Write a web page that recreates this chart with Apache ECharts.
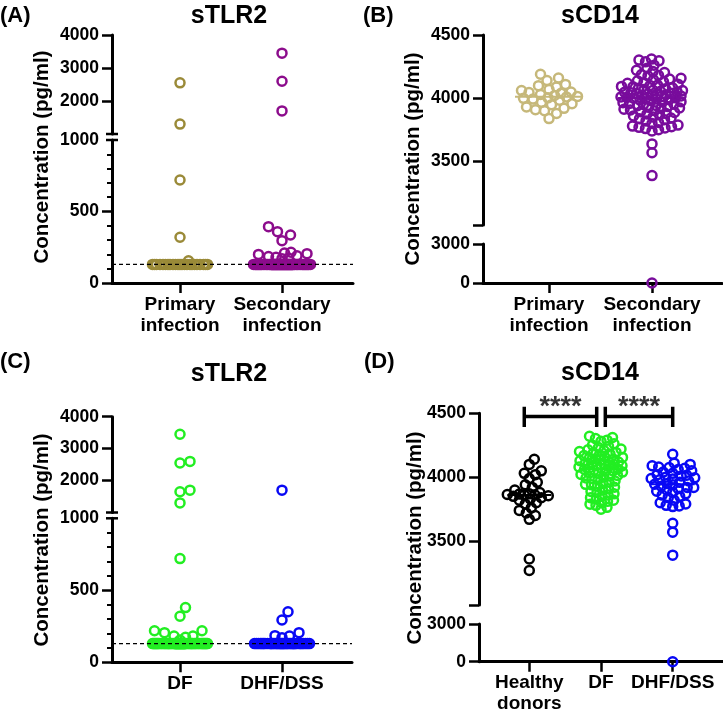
<!DOCTYPE html>
<html><head><meta charset="utf-8">
<script src="https://cdn.jsdelivr.net/npm/echarts@6/dist/echarts.min.js"></script>
<style>html,body{margin:0;padding:0;background:#fff}#c{width:723px;height:719px}</style>
</head><body><div id="c"></div>
<script>
// ---------------- data ----------------
const catsInfection = ['Primary\ninfection', 'Secondary\ninfection'];
const catsSeverity = ['DF', 'DHF/DSS'];
const catsSeverityHD = ['Healthy\ndonors', 'DF', 'DHF/DSS'];

const tlr2UpperTicks = [2000, 3000, 4000];
const tlr2LowerTicks = [0, 500, 1000];
const cd14UpperTicks = [3500, 4000, 4500];
const cd14LowerTicks = [0, 3000];

const tlr2LOD = 130;

// (A) sTLR2 by infection type
const tlr2Primary = [2550, 1300, 720, 320, 155,
  130,130,130,130,130,130,130,130,130,130,130,130,130,130,130,130,130,130,130,130,130,130,130];
const tlr2Secondary = [3450, 2600, 1700, 394, 359, 336, 296, 215, 210, 205, 200, 190, 185, 180, 175, 170,
  130,130,130,130,130,130,130,130,130,130,130,130,130,130,130,130,130,130,130,130,130,130,130,130,130,
  130,130,130,130,130,130,130,130,130,130,130,130,130,130,130,130,130,130,130,130,130,130,130,130,130,
  130,130,130,130,130,130,130,130,130,130,130,130,130,130,130,130,130,130,130,130,130,130,130,130,130];

// (B) sCD14 by infection type
const cd14Primary = [4190, 4160, 4140, 4110, 4100, 4090, 4070, 4062, 4050, 4046, 4040, 4030, 4022, 4015,
  4010, 4004, 4000, 3994, 3985, 3970, 3958, 3950, 3932, 3921, 3910, 3902, 3880, 3840];
const cd14Secondary = [4310, 4302, 4296, 4288, 4262, 4238, 4222, 4211, 4203, 4188, 4181, 4176, 4158, 4152,
  4146, 4139, 4131, 4124, 4119, 4112, 4104, 4101, 4094, 4091, 4084, 4079, 4076, 4069, 4064, 4061, 4056,
  4052, 4048, 4044, 4041, 4038, 4034, 4031, 4028, 4024, 4021, 4018, 4014, 4011, 4008, 4004, 4001, 3998,
  3994, 3989, 3986, 3981, 3974, 3971, 3966, 3959, 3954, 3951, 3944, 3941, 3936, 3929, 3924, 3921, 3914,
  3908, 3902, 3894, 3889, 3881, 3876, 3869, 3861, 3852, 3844, 3839, 3831, 3822, 3809, 3801, 3789, 3781,
  3776, 3771, 3766, 3761, 3752, 3742, 3640, 3570, 3390, 0];

// (C) sTLR2 by severity
const tlr2DF = [3450, 2600, 2550, 1700, 1650, 1300, 720, 380, 320, 219, 219, 206, 183, 183, 174, 155,
  130,130,130,130,130,130,130,130,130,130,130,130,130,130,130,130,130,130,130,130,
  130,130,130,130,130,130,130,130,130,130,130,130,130,130,130,130,130,130,130,130,
  130,130,130,130,130,130,130,130,130,130,130,130,130,130,130,130,130,130,130];
const tlr2DHF = [1700, 351, 294, 206, 185, 183, 171,
  130,130,130,130,130,130,130,130,130,130,130,130,130,130,130,130,130,130,130,
  130,130,130,130,130,130,130,130,130,130,130,130,130,130,130,130,130,130,130];

// (D) sCD14 by severity incl. healthy donors
const cd14Healthy = [4140, 4100, 4050, 4030, 4020, 3990, 3960, 3940, 3920, 3900, 3880, 3870, 3868, 3865,
  3862, 3860, 3855, 3850, 3840, 3830, 3820, 3800, 3790, 3760, 3740, 3720, 3700, 3670, 3360, 3270];
const cd14DF = [4320, 4311, 4302, 4290, 4281, 4262, 4250, 4241, 4232, 4220, 4214, 4209, 4201, 4194, 4190,
  4181, 4176, 4169, 4161, 4155, 4150, 4144, 4141, 4134, 4129, 4126, 4119, 4114, 4110, 4104, 4100, 4096,
  4089, 4086, 4080, 4074, 4071, 4064, 4060, 4054, 4050, 4046, 4040, 4034, 4030, 4021, 4014, 4010, 4001,
  3994, 3990, 3981, 3970, 3961, 3950, 3944, 3940, 3929, 3921, 3910, 3900, 3889, 3881, 3870, 3861, 3850,
  3840, 3829, 3820, 3811, 3800, 3789, 3780, 3764, 3750];
const cd14DHF = [4180, 4110, 4100, 4090, 4080, 4075, 4070, 4060, 4050, 4040, 4030, 4020, 4015, 4010, 4000,
  3995, 3990, 3985, 3980, 3970, 3960, 3950, 3945, 3940, 3930, 3920, 3920, 3910, 3900, 3890, 3880, 3870,
  3860, 3850, 3840, 3820, 3800, 3790, 3780, 3775, 3770, 3640, 3570, 3390, 0];

// significance brackets (panel D), in axis units
const sigBrackets = [{from: 0.93, to: 1.94, text: '****'}, {from: 2.06, to: 3.0, text: '****'}];
const sigLevel = 4475, sigCapTop = 4552, sigCapBottom = 4393, sigTextLevel = 4545;

// ---------------- layout / style ----------------
const FONT = '"Liberation Sans", Arial, Helvetica, sans-serif';
const colors = {olive:'#9A8A38', purpleA:'#8C0C8C', khaki:'#C6B87A', violetB:'#780C9C',
                green:'#22EE22', blue:'#0808F4', black:'#000000'};

const layout = {
  A:{axisX:112, right:353, groups:[180,282], up:{top:35,bottom:134}, lo:{top:140,bottom:283},
     brk:true, cats:catsInfection, title:'sTLR2', tpos:[229,16], label:'(A)', lpos:[0,16], ypos:[42,157]},
  B:{axisX:483, right:722, groups:[549,652], up:{top:35,bottom:225}, lo:{top:244,bottom:283},
     brk:false, cats:catsInfection, title:'sCD14', tpos:[600,16], label:'(B)', lpos:[363,16], ypos:[413,159]},
  C:{axisX:112, right:352, groups:[180,282], up:{top:416.7,bottom:512.5}, lo:{top:518.3,bottom:662.3},
     brk:true, cats:catsSeverity, title:'sTLR2', tpos:[229,374], label:'(C)', lpos:[0,362], ypos:[42,540]},
  D:{axisX:479, right:723, groups:[529.3,600.7,672.7], up:{top:413.3,bottom:605}, lo:{top:624,bottom:661.7},
     brk:false, cats:catsSeverityHD, title:'sCD14', tpos:[600,373], label:'(D)', lpos:[364,362], ypos:[415,538]}
};
const tlr2Axes = {split:1000, up:{min:1000,max:4000,interval:1000,ticks:tlr2UpperTicks,labels:tlr2UpperTicks},
                  lo:{min:0,max:1000,interval:500,ticks:[0,500],labels:tlr2LowerTicks,minor:true}};
const cd14Axes = {split:3000, up:{min:3000,max:4500,interval:500,ticks:[3000].concat(cd14UpperTicks),labels:cd14UpperTicks},
                  lo:{min:0,max:3000,interval:3000,ticks:cd14LowerTicks,labels:cd14LowerTicks}};
const axesOf = {A:tlr2Axes, B:cd14Axes, C:tlr2Axes, D:cd14Axes};

const grids=[], xAxes=[], yAxes=[], series=[], graphics=[];
const keys=['A','B','C','D'];
keys.forEach((k,pi)=>{
  const P=layout[k], ax=axesOf[k];
  const n=P.groups.length;
  P.ppu=(P.groups[n-1]-P.groups[0])/(n-1);
  P.xmin=1-(P.groups[0]-P.axisX)/P.ppu;
  P.xmax=P.xmin+(P.right-P.axisX)/P.ppu;
  P.gUp=pi*2; P.gLo=pi*2+1;
  ['up','lo'].forEach(seg=>{
    const g=P[seg], a=ax[seg], gi=seg==='up'?P.gUp:P.gLo;
    grids.push({left:P.axisX, top:g.top, width:P.right-P.axisX, height:g.bottom-g.top, containLabel:false});
    const catVals=P.cats.map((c,i)=>i+1);
    xAxes.push({type:'value', gridIndex:gi, min:P.xmin, max:P.xmax, show:seg==='lo',
      axisLine:{show:true,onZero:false,lineStyle:{color:'#000',width:3}},
      axisTick:{show:true,length:10,lineStyle:{color:'#000',width:2.5},customValues:catVals},
      axisLabel:{show:true,customValues:catVals,formatter:v=>P.cats[Math.round(v)-1]||'',
        color:'#000',fontFamily:FONT,fontWeight:'bold',fontSize:19,lineHeight:21,margin:11},
      splitLine:{show:false}});
    yAxes.push({type:'value', gridIndex:gi, min:a.min, max:a.max, interval:a.interval,
      axisLine:{show:true,onZero:false,lineStyle:{color:'#000',width:3}},
      axisTick:{show:true,length:10,lineStyle:{color:'#000',width:2.5},customValues:a.ticks},
      minorTick:a.minor?{show:true,splitNumber:5,length:5,lineStyle:{color:'#000',width:2}}:{show:false},
      axisLabel:{show:true,customValues:a.labels,formatter:v=>String(v),color:'#000',fontFamily:FONT,fontWeight:'bold',fontSize:17.5,margin:13},
      splitLine:{show:false}});
  });
  // texts
  graphics.push({type:'text',x:P.tpos[0],y:P.tpos[1],style:{text:P.title,font:'bold 25px '+FONT,fill:'#000',align:'center',verticalAlign:'middle'}});
  graphics.push({type:'text',x:P.lpos[0],y:P.lpos[1],style:{text:P.label,font:'bold 22px '+FONT,fill:'#000',align:'left',verticalAlign:'middle'}});
  graphics.push({type:'text',x:P.ypos[0],y:P.ypos[1],rotation:Math.PI/2,style:{text:'Concentration (pg/ml)',font:'bold 20.5px '+FONT,fill:'#000',align:'center',verticalAlign:'middle'}});
  if(P.brk){
    [P.up.bottom,P.lo.top].forEach(yy=>graphics.push({type:'line',shape:{x1:P.axisX-6,y1:yy,x2:P.axisX+6,y2:yy},style:{stroke:'#000',lineWidth:2.5}}));
  }
});

function yPx(P,ax,v){const seg=v>=ax.split?'up':'lo';const a=ax[seg],g=P[seg];return g.bottom-(v-a.min)/(a.max-a.min)*(g.bottom-g.top);}

function swarm(values,toPx,maxHalf,dist){
  const idx=values.map((v,i)=>i).sort((a,b)=>values[a]-values[b]);
  const placed=[],out=new Array(values.length);
  const cands=[0];for(let s=0.5;s<=maxHalf;s+=0.5){cands.push(s,-s);}
  for(const i of idx){
    const py=toPx(values[i]);
    const md=cands.map(cx=>{let m=Infinity;for(const p of placed){const d=Math.hypot(p.x-cx,p.y-py);if(d<m)m=d;}return m;});
    let d=dist,chosen=null;
    while(chosen===null){
      for(let k=0;k<cands.length;k++){if(md[k]>=d){chosen=cands[k];break;}}
      if(chosen===null){d*=0.85;if(d<0.4){let b=0;for(let k=1;k<cands.length;k++)if(md[k]>md[b])b=k;chosen=cands[b];}}
    }
    placed.push({x:chosen,y:py});out[i]=chosen;
  }
  return out;
}

function scatter(gi,data,color,z){
  return {type:'scatter',xAxisIndex:gi,yAxisIndex:gi,data:data,symbol:'circle',symbolSize:9,clip:false,silent:true,z:z||3,
    itemStyle:{color:'rgba(255,255,255,0)',borderColor:color,borderWidth:2.5,opacity:1}};
}

function addGroup(k,gIdx,values,color,maxHalf,dist,medianHalf){
  const P=layout[k],ax=axesOf[k];
  const offs=swarm(values,v=>yPx(P,ax,v),maxHalf,dist);
  const up=[],lo=[];
  values.forEach((v,i)=>{const pt=[gIdx+1+offs[i]/P.ppu,v];(v>=ax.split?up:lo).push(pt);});
  if(medianHalf){
    const s=values.slice().sort((a,b)=>a-b);const m=s.length%2?s[(s.length-1)/2]:(s[s.length/2-1]+s[s.length/2])/2;
    series.push({type:'line',xAxisIndex:P.gUp,yAxisIndex:P.gUp,data:[[gIdx+1-medianHalf/P.ppu,m],[gIdx+1+medianHalf/P.ppu,m]],
      showSymbol:false,silent:true,z:2,lineStyle:{color:color,width:2}});
  }
  series.push(scatter(P.gUp,up,color),scatter(P.gLo,lo,color));
}

addGroup('A',0,tlr2Primary,colors.olive,28,10);
addGroup('A',1,tlr2Secondary,colors.purpleA,29,10);
addGroup('B',0,cd14Primary,colors.khaki,29,9,34);
addGroup('B',1,cd14Secondary,colors.violetB,31,6.5,34);
addGroup('C',0,tlr2DF,colors.green,28,10);
addGroup('C',1,tlr2DHF,colors.blue,28,10);
addGroup('D',0,cd14Healthy,colors.black,22,7,22);
addGroup('D',1,cd14DF,colors.green,22,6,22);
addGroup('D',2,cd14DHF,colors.blue,22,6.5,22);

// LOD dashed lines (A, C)
['A','C'].forEach(k=>{const P=layout[k];
  series.push({type:'line',xAxisIndex:P.gLo,yAxisIndex:P.gLo,data:[[P.xmin,tlr2LOD],[P.xmax,tlr2LOD]],showSymbol:false,silent:true,z:10,
    lineStyle:{color:'#000',width:1.3,type:[4,3]}});
});

// significance brackets (D)
const PD=layout.D;
sigBrackets.forEach(b=>{
  series.push({type:'line',xAxisIndex:PD.gUp,yAxisIndex:PD.gUp,clip:false,showSymbol:false,silent:true,z:5,
    data:[[b.from,sigCapTop],[b.from,sigCapBottom],[b.from,sigLevel],[b.to,sigLevel],[b.to,sigCapTop],[b.to,sigCapBottom]],
    lineStyle:{color:'#000',width:3.5,cap:'butt',join:'miter'}});
  series.push({type:'scatter',xAxisIndex:PD.gUp,yAxisIndex:PD.gUp,clip:false,silent:true,symbolSize:0,z:5,
    data:[[(b.from+b.to)/2,sigTextLevel]],
    label:{show:true,position:'inside',formatter:b.text,color:'#000',fontFamily:FONT,fontWeight:'bold',fontSize:27}});
});

const chart=echarts.init(document.getElementById('c'),null,{renderer:'canvas'});
chart.setOption({animation:false,backgroundColor:'#fff',grid:grids,xAxis:xAxes,yAxis:yAxes,series:series,graphic:graphics});
</script></body></html>
